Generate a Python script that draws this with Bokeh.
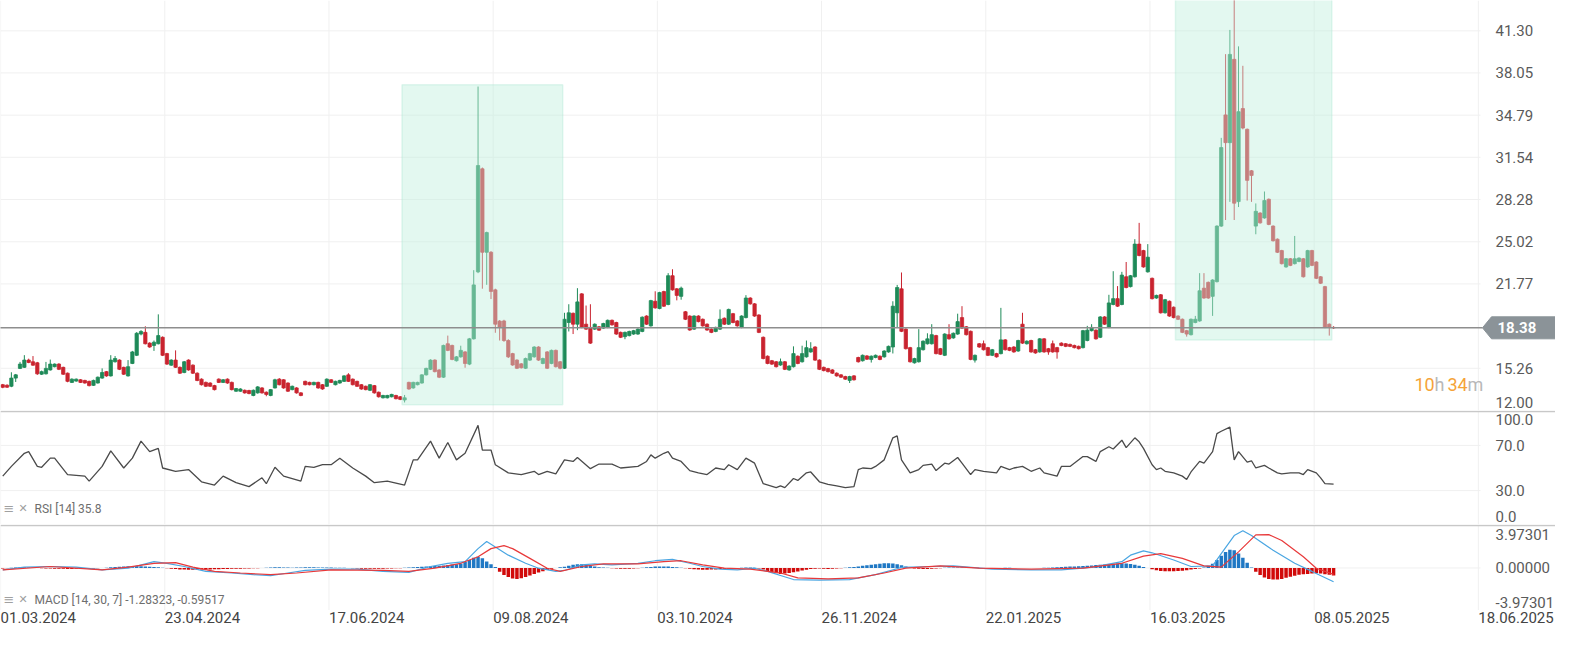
import numpy as np
from bokeh.plotting import figure
from bokeh.models import Range1d, Span, Label, BoxAnnotation, ColumnDataSource
from bokeh.layouts import column
from bokeh.embed import file_html
from bokeh.resources import INLINE

# ---------------- data ----------------
opens = [
 13.99,13.95,13.87,14.50,15.25,15.33,15.89,15.76,15.68,14.80,
 14.83,15.13,15.38,15.58,15.33,14.88,14.17,14.27,14.37,14.32,
 14.25,13.94,14.12,14.50,15.00,14.67,15.76,15.89,15.33,14.67,
 15.63,16.26,17.90,18.03,17.20,17.02,17.15,17.65,16.39,15.50,
 15.89,15.33,14.93,15.89,15.50,14.88,14.42,14.17,14.12,13.92,
 14.42,14.17,14.42,14.17,13.49,13.49,13.56,13.54,13.16,13.36,
 13.74,13.41,13.16,13.74,14.42,14.37,14.12,13.61,13.74,13.36,
 14.25,14.17,13.99,14.17,13.99,13.87,14.37,13.99,14.12,14.25,
 14.75,14.42,14.25,13.99,13.87,13.56,13.92,13.41,12.98,12.98,
 13.06,13.16,13.06,12.81,14.17,13.74,13.99,14.12,14.75,15.18,
 15.89,15.13,14.57,17.15,17.02,15.84,16.14,16.52,15.58,17.53,
 22.70,30.65,24.21,24.21,21.31,18.90,18.91,17.40,16.39,15.89,
 15.60,15.26,15.89,16.14,16.90,15.63,16.52,15.63,16.64,15.76,
 15.26,18.79,19.50,18.66,21.00,18.66,18.41,18.28,18.46,18.36,
 18.41,18.96,18.79,18.03,17.70,17.78,17.90,17.90,18.10,19.29,
 18.53,20.43,19.87,21.18,20.18,22.40,21.39,20.81,19.62,19.29,
 18.28,19.29,19.04,18.66,18.28,18.10,18.28,19.12,18.66,19.47,
 18.91,18.41,19.17,20.68,20.23,19.37,17.65,16.19,15.84,15.76,
 15.51,15.76,15.13,15.38,16.19,15.76,16.14,16.52,16.90,15.89,
 15.33,15.23,15.13,14.88,14.75,14.62,14.32,14.67,16.09,15.84,
 16.21,15.94,16.09,16.19,16.14,16.52,16.90,19.54,21.39,18.28,
 16.85,15.68,15.76,16.69,17.15,17.15,17.78,16.77,16.26,17.85,
 17.60,17.90,19.17,18.46,18.11,15.89,17.15,17.15,16.85,16.26,
 16.39,16.39,17.45,16.85,16.90,16.59,18.66,17.15,17.40,16.69,
 16.52,17.53,16.77,17.15,16.85,17.20,17.15,17.10,17.02,16.95,
 16.85,17.40,18.16,18.20,17.65,19.22,18.41,20.18,20.63,20.18,
 22.32,21.56,22.32,24.84,24.34,22.70,22.20,20.68,20.93,19.54,
 20.43,19.97,19.29,19.04,18.16,17.85,18.79,18.91,21.44,21.89,
 20.81,21.94,26.23,34.81,32.67,39.10,28.12,35.30,33.70,30.50,
 26.23,27.24,26.86,28.30,26.23,25.22,24.34,23.08,23.71,23.33,
 23.50,23.71,23.08,24.34,23.46,22.32,21.56,18.66,18.41]
closes = [
 13.79,13.80,14.50,14.75,15.58,15.89,15.71,15.50,14.83,15.00,
 15.25,15.58,15.58,15.18,14.80,14.25,14.42,14.42,14.17,14.12,
 13.92,14.32,14.57,14.93,14.67,15.89,16.01,15.18,14.80,15.38,
 16.52,17.96,18.10,17.15,16.90,17.27,17.78,16.26,15.58,15.89,
 15.33,14.88,15.76,15.13,14.88,14.32,13.99,13.87,13.87,13.61,
 14.17,14.37,14.12,13.61,13.69,13.66,13.36,13.31,13.56,13.82,
 13.36,13.24,13.61,14.37,13.99,13.74,13.49,13.87,13.36,13.16,
 13.99,13.99,14.17,13.74,13.66,14.42,14.17,14.25,14.32,14.67,
 14.25,13.99,13.87,13.66,13.61,13.99,13.36,13.06,13.16,13.16,
 13.24,12.91,12.86,12.98,13.66,14.17,14.17,14.75,15.25,15.89,
 15.00,14.57,17.02,16.64,15.94,16.14,16.64,15.63,17.53,21.69,
 30.90,24.21,25.73,21.19,18.66,18.41,17.40,16.14,15.51,15.26,
 15.30,16.01,16.39,16.90,15.89,16.01,15.26,16.64,15.38,15.26,
 19.04,19.54,18.66,20.38,18.41,18.28,17.20,18.66,18.20,18.71,
 18.96,18.61,17.90,17.65,18.03,18.10,18.16,18.28,19.20,18.66,
 20.48,19.92,21.10,20.05,22.40,21.31,20.88,21.44,19.04,18.21,
 19.29,18.86,18.53,18.21,18.03,18.41,19.04,18.66,19.80,18.79,
 18.53,19.29,20.68,20.23,19.29,18.03,16.01,15.63,15.58,15.38,
 15.76,15.18,15.43,16.39,15.63,16.39,16.85,16.77,15.89,15.18,
 15.08,15.00,14.88,14.67,14.57,14.42,14.62,14.37,15.76,16.26,
 15.96,16.19,16.26,15.94,16.59,16.95,20.05,21.49,18.11,16.77,
 15.76,16.01,16.85,17.35,17.53,17.85,16.39,16.34,17.90,17.53,
 17.96,18.86,18.36,17.85,15.94,16.26,16.90,16.69,16.26,16.69,
 16.14,17.45,16.69,16.64,16.52,17.40,17.20,17.35,16.52,16.44,
 17.53,16.52,16.52,16.52,16.52,17.02,16.95,16.95,16.85,16.77,
 18.16,18.20,18.41,17.53,19.22,18.66,20.30,20.63,20.05,22.45,
 21.49,22.40,24.84,23.96,23.08,23.83,20.63,20.88,19.54,20.55,
 19.29,19.17,19.04,18.03,17.90,19.04,19.04,21.24,20.68,20.68,
 22.07,26.23,32.29,32.67,39.48,28.00,35.06,33.80,29.76,30.14,
 27.37,26.48,28.20,26.36,25.10,24.21,23.33,23.71,23.20,23.71,
 23.76,22.32,24.34,23.20,22.20,21.82,18.41,18.41,18.38]
highs = [
 14.05,14.02,14.95,14.82,15.75,16.27,16.00,16.20,15.75,15.08,
 15.75,15.93,15.63,15.65,15.38,14.93,14.48,14.47,14.42,14.37,
 14.30,14.38,14.62,15.25,15.05,16.27,16.20,15.95,15.38,15.89,
 16.60,18.05,18.20,18.50,17.27,17.40,19.42,17.72,16.45,15.95,
 16.64,15.40,15.82,15.95,15.56,14.94,14.48,14.23,14.18,13.98,
 14.48,14.43,14.48,14.23,13.74,13.72,13.62,13.60,13.62,13.88,
 13.80,13.47,13.66,14.45,14.50,14.42,14.17,13.92,13.80,13.42,
 14.30,14.22,14.22,14.22,14.04,14.48,14.42,14.30,14.37,14.72,
 14.88,14.47,14.30,14.04,13.92,14.04,13.97,13.46,13.21,13.21,
 13.29,13.21,13.11,13.20,14.22,14.22,14.22,14.80,15.30,15.95,
 15.95,15.18,17.08,17.78,17.08,16.20,17.00,16.58,17.60,22.83,
 37.00,30.75,25.80,24.30,21.40,18.98,19.00,17.50,16.45,15.95,
 15.66,16.08,16.45,16.96,16.96,16.08,16.58,16.70,16.70,15.82,
 19.54,20.20,19.56,21.44,21.06,20.10,20.20,18.72,18.52,18.77,
 19.02,19.02,18.85,18.09,18.09,18.16,18.22,18.34,19.26,19.35,
 20.54,21.20,21.16,21.24,22.60,22.90,21.45,21.56,19.68,19.35,
 19.35,19.35,19.10,18.72,18.34,18.47,19.80,19.18,19.86,19.53,
 18.97,19.35,20.90,20.74,20.29,19.43,17.71,16.25,15.90,15.82,
 16.01,15.82,15.49,16.95,16.25,17.00,17.40,17.27,16.96,15.95,
 15.39,15.29,15.19,14.94,14.81,14.68,14.68,14.73,16.15,16.32,
 16.27,16.25,16.32,16.25,16.65,17.01,20.43,21.69,22.65,18.34,
 16.91,16.07,18.28,17.41,17.96,18.66,17.84,16.83,17.96,18.66,
 18.02,19.47,20.05,18.52,18.17,16.32,17.21,17.40,16.91,16.75,
 16.45,19.92,17.51,16.91,16.96,17.46,19.54,17.41,17.46,16.75,
 17.59,17.59,16.83,17.40,16.91,17.26,17.21,17.16,17.08,17.01,
 18.22,18.53,18.66,18.26,19.28,19.28,20.93,22.75,21.60,22.70,
 23.46,22.46,25.22,26.48,24.40,24.84,22.26,20.94,20.99,20.61,
 20.49,20.03,19.35,19.10,18.22,19.10,19.30,22.60,22.60,21.95,
 22.13,26.29,33.04,39.50,41.37,44.50,40.10,38.60,33.76,30.56,
 27.98,27.30,28.90,28.36,26.29,25.28,24.40,23.77,23.77,25.47,
 23.82,23.77,24.40,24.40,23.52,22.38,21.62,18.72,18.50]
lows = [
 13.72,13.74,13.80,14.20,15.20,15.28,15.65,15.45,14.75,14.74,
 14.78,15.08,15.33,15.12,14.75,14.18,14.12,14.22,14.12,14.07,
 13.86,13.90,14.08,14.45,14.60,14.62,15.70,15.12,14.74,14.62,
 15.58,16.20,17.80,17.10,16.84,16.60,17.10,16.20,15.52,15.45,
 15.28,14.82,14.88,15.07,14.82,14.26,13.93,13.81,13.82,13.55,
 14.12,14.12,14.06,13.55,13.44,13.44,13.30,13.25,13.10,13.30,
 13.30,13.10,13.10,13.70,13.94,13.68,13.43,13.56,13.30,13.10,
 13.94,13.94,13.94,13.68,13.60,13.82,14.12,13.94,14.07,14.20,
 14.20,13.94,13.82,13.60,13.56,13.50,13.30,13.00,12.93,12.93,
 13.01,12.86,12.80,12.62,13.60,13.68,13.94,14.07,14.70,15.12,
 14.94,14.50,14.52,16.58,15.88,15.78,16.08,15.30,15.50,17.48,
 22.60,21.40,21.70,20.60,18.00,17.40,17.30,16.05,15.45,15.20,
 15.24,15.20,15.83,16.08,15.83,15.57,15.20,15.57,15.32,15.18,
 15.20,18.10,17.90,18.20,18.35,18.22,17.14,18.22,18.14,18.30,
 18.35,18.55,17.84,17.59,17.50,17.72,17.84,17.84,18.04,18.60,
 18.47,19.86,19.81,19.99,20.12,21.25,20.50,20.55,18.98,18.15,
 18.22,18.80,18.47,18.15,17.97,18.04,18.22,18.60,18.60,18.73,
 18.47,18.35,19.11,20.17,19.23,17.97,15.95,15.57,15.52,15.32,
 15.45,15.12,15.07,15.32,15.57,15.70,16.08,16.46,15.83,15.12,
 15.02,14.94,14.82,14.61,14.51,14.36,14.12,14.31,15.70,15.78,
 15.90,15.70,16.03,15.88,16.08,16.46,16.40,18.40,18.05,16.71,
 15.70,15.62,15.70,16.63,17.09,17.09,16.33,16.28,16.20,17.47,
 17.54,17.84,18.30,17.79,15.88,15.70,16.84,16.63,16.20,16.20,
 16.08,16.33,16.63,16.58,16.46,16.53,17.14,17.09,16.46,16.38,
 16.46,16.46,16.30,16.46,16.00,16.96,16.89,16.89,16.79,16.71,
 16.79,17.34,18.10,17.47,17.59,18.60,18.35,20.12,19.99,20.12,
 21.43,21.50,22.26,23.90,23.02,22.64,20.57,20.62,19.48,19.48,
 19.23,19.11,18.98,17.97,17.70,17.79,18.73,18.85,20.62,20.62,
 19.30,21.88,26.17,26.70,28.10,26.70,27.70,33.70,28.20,28.10,
 25.60,26.42,26.80,26.30,25.04,24.15,23.27,23.02,23.14,23.27,
 23.44,22.26,23.02,23.14,22.14,21.76,18.35,17.78,18.30]

rsi_bars = [0,2,5,6,8,9,11,12,15,19,20,23,25,28,30,32,34,36,37,40,43,46,49,51,54,57,60,61,63,65,
            69,70,72,74,76,78,81,84,86,89,93,95,96,99,101,103,105,107,110,111,113,114,117,120,123,124,126,128,
            130,132,133,136,138,141,143,147,149,150,151,153,154,155,157,159,161,163,165,167,168,170,172,174,176,179,
            180,181,183,184,186,187,189,191,193,195,197,198,199,201,202,204,206,207,208,210,212,213,215,216,218,219,
            221,222,224,225,227,230,231,233,234,236,238,240,241,244,245,247,250,251,253,254,256,257,259,260,262,263,
            264,266,267,268,269,271,273,274,275,277,278,280,281,282,284,285,286,288,289,290,292,293,295,296,298,300,
            301,302,304,305,306,308]
rsi_vals = [42.8,51.4,63.0,64.5,51.4,50.6,58.7,58.7,44.2,42.8,38.4,51.4,65.1,50.0,58.7,73.8,64.5,67.4,50.0,47.1,
            48.6,37.8,34.9,42.8,37.0,33.5,41.3,36.1,50.6,42.8,
            38.4,51.4,50.6,52.9,52.9,58.7,50.0,42.8,37.0,38.4,34.9,57.2,57.2,73.8,58.7,72.6,57.2,63.0,87.7,65.9,
            65.9,52.9,45.7,44.2,47.1,44.2,47.1,44.8,
            57.2,55.8,59.3,49.4,53.5,53.5,50.0,51.4,55.8,61.6,58.7,63.0,64.5,58.7,55.8,47.7,45.7,44.2,50.0,48.6,
            52.9,48.6,58.7,54.3,36.1,32.6,
            34.1,32.6,40.7,39.0,45.7,46.5,37.8,35.5,34.1,32.6,33.5,48.6,50.0,49.4,51.4,57.2,76.7,78.4,57.2,45.7,
            48.6,52.3,53.5,47.7,54.3,53.5,
            59.3,54.3,44.2,48.6,47.1,45.7,51.4,48.6,50.0,51.4,47.1,50.0,45.7,42.8,51.4,51.4,60.1,60.1,55.8,64.5,
            68.8,66.8,74.6,68.0,76.7,73.2,
            67.4,52.9,48.6,50.0,47.1,45.7,42.8,39.9,46.5,55.8,54.3,64.5,80.4,82.5,86.2,57.2,64.5,55.2,56.4,50.0,
            52.3,50.0,45.7,44.8,45.7,45.7,
            44.2,48.6,45.7,41.3,36.1,35.8]

macd_bars = [0,5,11,17,23,29,35,38,42,47,53,58,62,66,70,76,82,88,94,99,103,107,110,112,114,117,121,124,128,
             130,134,137,141,147,151,155,159,162,166,170,174,177,180,183,189,196,202,208,215,220,229,238,245,
             252,259,261,264,266,271,275,280,282,285,287,289,294,299,303,308]
macd_vals = [-0.17,0.08,0.14,0.08,-0.17,-0.02,0.59,0.44,0.14,-0.32,-0.47,-0.62,-0.72,-0.47,-0.23,-0.11,-0.11,
             -0.32,-0.41,0.14,0.44,0.59,1.81,2.48,1.96,1.20,0.44,-0.02,-0.32,
             -0.23,0.29,0.38,0.29,0.44,0.68,0.81,0.44,0.14,-0.11,-0.17,-0.02,-0.32,-0.70,-1.08,-1.14,-1.08,-0.62,
             0.05,0.14,0.20,-0.11,-0.17,-0.17,
             0.05,0.59,1.20,1.60,1.42,0.75,0.14,0.20,1.35,3.03,3.49,3.03,1.66,0.44,-0.32,-1.28323]
signal_bars = [0,11,23,29,35,40,44,49,55,62,68,76,88,94,100,106,110,113,116,118,122,126,129,134,139,147,153,
               157,162,167,173,177,180,184,191,198,204,209,217,226,238,250,259,264,268,273,278,282,286,290,
               293,296,301,304,308]
signal_vals = [-0.17,0.14,-0.17,0.08,0.44,0.50,0.08,-0.32,-0.47,-0.62,-0.47,-0.17,-0.23,-0.32,-0.02,0.44,1.05,
               1.81,2.09,1.81,0.90,-0.02,-0.32,0.14,0.38,0.38,0.59,0.68,0.29,-0.02,-0.11,-0.32,-0.47,-0.93,-1.02,
               -0.93,-0.47,-0.02,0.20,-0.02,-0.11,-0.02,0.44,1.11,1.35,0.90,0.20,0.08,1.51,3.09,3.12,2.57,1.05,
               -0.02,-0.59517]
hist_vals = [
 -0.04,-0.03,0.03,0.05,0.06,0.06,0.05,0.04,0.02,-0.03,
 -0.05,-0.05,-0.06,-0.08,-0.08,-0.09,-0.09,-0.08,-0.07,-0.06,
 -0.05,-0.04,-0.03,0.0,0.03,0.06,0.09,0.12,0.15,0.17,
 0.18,0.18,0.17,0.15,0.12,0.09,0.06,0.03,-0.02,-0.06,
 -0.10,-0.13,-0.15,-0.16,-0.16,-0.15,-0.15,-0.14,-0.13,-0.12,
 -0.11,-0.10,-0.09,-0.08,-0.07,-0.06,-0.05,-0.04,-0.03,-0.02,
 0.0,0.03,0.05,0.06,0.06,0.05,0.04,0.03,0.04,0.05,
 0.06,0.06,0.06,0.05,0.05,0.04,0.04,0.03,0.03,0.02,
 0.0,-0.03,-0.05,-0.07,-0.08,-0.08,-0.08,-0.07,-0.06,-0.05,
 -0.04,-0.03,-0.02,0.02,0.05,0.08,0.10,0.12,0.14,0.16,
 0.18,0.20,0.24,0.28,0.32,0.36,0.42,0.55,0.75,0.95,
 1.05,0.90,0.60,0.35,0.10,-0.35,-0.65,-0.85,-0.98,-1.02,
 -0.95,-0.85,-0.70,-0.55,-0.42,-0.30,-0.18,-0.08,0.0,0.06,
 0.12,0.22,0.30,0.36,0.36,0.30,0.22,0.14,0.08,0.04,
 0.02,-0.02,-0.05,-0.07,-0.08,-0.07,-0.05,-0.02,0.02,0.06,
 0.10,0.13,0.15,0.15,0.13,0.10,0.07,0.03,-0.03,-0.08,
 -0.12,-0.15,-0.16,-0.16,-0.15,-0.13,-0.10,-0.07,-0.04,-0.02,
 0.0,0.02,0.04,0.05,0.03,-0.05,-0.15,-0.30,-0.42,-0.50,
 -0.55,-0.52,-0.47,-0.40,-0.32,-0.24,-0.17,-0.10,-0.06,-0.04,
 -0.08,-0.10,-0.08,-0.05,-0.03,0.02,0.06,0.10,0.15,0.20,
 0.25,0.30,0.35,0.40,0.44,0.44,0.42,0.35,0.25,0.15,
 0.06,-0.04,-0.08,-0.10,-0.10,-0.08,-0.05,-0.02,0.02,0.04,
 0.05,0.05,0.04,0.03,0.02,0.0,-0.02,-0.03,-0.03,-0.02,
 0.0,0.01,0.02,0.02,0.01,0.0,0.0,-0.01,-0.01,0.0,
 0.01,0.02,0.03,0.05,0.07,0.09,0.11,0.13,0.15,0.17,
 0.19,0.21,0.24,0.27,0.30,0.33,0.36,0.40,0.43,0.44,
 0.42,0.38,0.30,0.20,0.10,0.0,-0.12,-0.22,-0.28,-0.30,
 -0.30,-0.30,-0.28,-0.25,-0.20,-0.15,-0.10,-0.05,0.05,0.20,
 0.40,0.75,1.15,1.50,1.70,1.65,1.35,0.95,0.50,0.05,
 -0.35,-0.65,-0.88,-1.02,-1.08,-1.08,-1.02,-0.92,-0.82,-0.72,
 -0.64,-0.58,-0.55,-0.52,-0.50,-0.52,-0.58,-0.64,-0.69]

tick_labels = ["01.03.2024", "23.04.2024", "17.06.2024", "09.08.2024", "03.10.2024",
               "26.11.2024", "22.01.2025", "16.03.2025", "08.05.2025", "18.06.2025"]
tick_bars = [-0.5, 37.5, 75.5, 113.5, 151.5, 189.5, 227.5, 265.5, 303.5, 341.5]
price_ticks = [15.26, 21.77, 25.02, 28.28, 31.54, 34.79, 38.05, 41.30]
price_edge = 12.00
rsi_ticks = [30.0, 70.0]
rsi_edges = [0.0, 100.0]
macd_limit = 3.97301

zone_left = [92.4, 271.4]
zone_right = [129.6, 307.6]
zone_low = [12.45, 17.45]
zone_high = [37.13, 45.0]

# ---------------- layout ----------------
W = 1555
CHART_W = 1480
H_MAIN, H_RSI, H_MACD, H_DATE = 410, 114, 86, 19
X0, X1 = -0.52, 342.0
px_bar = CHART_W / (X1 - X0)
XEND = X0 + W / px_bar
P0, P1 = 12.0, 43.64
px_price = H_MAIN / (P1 - P0)
xr = Range1d(X0, XEND)

FONT = "Roboto"
GRID = "#f0f0f0"
LABEL = "#5a5a5a"
GREEN = "#1e8a58"
RED = "#c9232f"
SEP = "#c8c8c8"
STANDOFF = 15


def make(h, y0, y1):
    p = figure(width=W, height=h, x_range=xr, y_range=Range1d(y0, y1),
               output_backend="svg", toolbar_location=None,
               x_axis_location=None, y_axis_location=None, min_border=0)
    p.min_border_left = 0
    p.min_border_right = 0
    p.min_border_top = 0
    p.min_border_bottom = 0
    p.outline_line_color = None
    p.background_fill_color = "white"
    p.border_fill_color = "white"
    p.grid.visible = False
    return p


def grids(p, yvals, y0, y1):
    p.segment(x0=X0, x1=X1, y0=yvals, y1=yvals, line_color=GRID, line_width=1)
    p.segment(x0=tick_bars, x1=tick_bars, y0=y0, y1=y1, line_color=GRID, line_width=1)


def ylabel(p, y, text, baseline="middle", yoff=0):
    p.add_layout(Label(x=X1, y=y, text=text, x_offset=STANDOFF, y_offset=yoff, text_baseline=baseline,
                       text_font=FONT, text_font_size="15px", text_color=LABEL))


def legend(p, y, yoff, text):
    p.add_layout(Label(x=X0, y=y, x_offset=3, y_offset=yoff, text="\u2261", text_baseline="middle",
                       text_font="DejaVu Sans", text_font_size="13px", text_color="#a0a0a0"))
    p.add_layout(Label(x=X0, y=y, x_offset=18, y_offset=yoff, text="\u2715", text_baseline="middle",
                       text_font="DejaVu Sans", text_font_size="11px", text_color="#a0a0a0"))
    p.add_layout(Label(x=X0, y=y, x_offset=34, y_offset=yoff, text=text, text_baseline="middle",
                       text_font=FONT, text_font_size="12px", text_color="#6e6e6e"))


# ---------------- main price panel ----------------
o = np.array(opens); c = np.array(closes); hi = np.array(highs); lo = np.array(lows)
idx = np.arange(len(c))
col = np.where(c >= o, GREEN, RED)
src = ColumnDataSource(dict(x=idx, top=np.maximum(o, c), bottom=np.minimum(o, c),
                            high=hi, low=lo, color=col))

pm = make(H_MAIN, P0, P1)
grids(pm, [price_edge] + price_ticks, P0, P1)
pm.segment(x0="x", y0="low", x1="x", y1="high", line_color="color", line_width=1, source=src)
pm.vbar(x="x", width=0.76, top="top", bottom="bottom", fill_color="color", line_color="color",
        line_width=0.8, source=src)

for l, r, b, t in zip(zone_left, zone_right, zone_low, zone_high):
    pm.add_layout(BoxAnnotation(left=l, right=r, bottom=b, top=t, fill_color="#c2f0dd",
                                fill_alpha=0.45, line_color="#a3e4cc", line_width=1.5))

last = closes[-1]
tip = X1 + 2 / px_bar
base = X1 + 11 / px_bar
right = X1 + 76 / px_bar
half = 11 / px_price
pm.segment(x0=X0, x1=tip, y0=last, y1=last, line_color="#8e8e8e", line_width=1.5, level="overlay")
pm.patch(x=[tip, base, right, right, base],
         y=[last, last + half, last + half, last - half, last - half],
         fill_color="#8b9398", line_color="#8b9398")
pm.add_layout(Label(x=X1, y=last, x_offset=STANDOFF + 2, text=f"{last:.2f}", text_baseline="middle",
                    text_font=FONT, text_font_size="15px", text_font_style="bold", text_color="white"))
for t in price_ticks:
    ylabel(pm, t, f"{t:.2f}")
ylabel(pm, price_edge, f"{price_edge:.2f}", "bottom", 3)

for txt, off, colr in [("10", -66, "#f5a338"), ("h", -46, "#b8b8b8"), ("34", -33, "#f5a338"), ("m", -13, "#b8b8b8")]:
    pm.add_layout(Label(x=X1, y=P0, x_offset=off, y_offset=26, text=txt, text_baseline="middle",
                        text_font=FONT, text_font_size="18px", text_color=colr))

# ---------------- RSI panel ----------------
r_top = 100.0 + 1.0 / (H_RSI / 100.0)
pr = make(H_RSI, 0, r_top)
grids(pr, rsi_ticks, 0, r_top)
pr.line(rsi_bars, rsi_vals, line_color="#4a4a4a", line_width=1.3)
pr.add_layout(Span(location=100, dimension="width", line_color=SEP, line_width=1.5))
for t in rsi_ticks:
    ylabel(pr, t, f"{t:.1f}")
ylabel(pr, rsi_edges[1], f"{rsi_edges[1]:.1f}", "top", -3)
ylabel(pr, rsi_edges[0], f"{rsi_edges[0]:.1f}", "bottom", 3)
legend(pr, 0, 16, f"RSI [14] {rsi_vals[-1]:.1f}")

# ---------------- MACD panel ----------------
m_top = macd_limit + 1.0 / (H_MACD / (2 * macd_limit))
pd_ = make(H_MACD, -macd_limit, m_top)
grids(pd_, [0.0], -macd_limit, m_top)
hv = np.array(hist_vals)
hsrc = ColumnDataSource(dict(x=np.arange(len(hv)), top=hv,
                             color=np.where(hv >= 0, "#1f78c4", "#d10a0a")))
pd_.vbar(x="x", width=0.8, top="top", bottom=0, fill_color="color", line_color=None, source=hsrc)
pd_.line(macd_bars, macd_vals, line_color="#4aa6e2", line_width=1.2)
pd_.line(signal_bars, signal_vals, line_color="#e8393a", line_width=1.2)
pd_.add_layout(Span(location=macd_limit, dimension="width", line_color=SEP, line_width=1.5))
ylabel(pd_, 0.0, f"{0.0:.5f}")
ylabel(pd_, macd_limit, f"{macd_limit:.5f}", "top", -4)
ylabel(pd_, -macd_limit, f"{-macd_limit:.5f}", "bottom", 3)
legend(pd_, -macd_limit, 11, f"MACD [14, 30, 7] {macd_vals[-1]:.5f},  {signal_vals[-1]:.5f}")

# ---------------- date strip ----------------
px = make(H_DATE, 0, 1)
for tb, tl in zip(tick_bars, tick_labels):
    px.add_layout(Label(x=tb, y=1, y_offset=-1, text=tl, text_align="left",
                        text_baseline="top", text_font=FONT, text_font_size="15px",
                        text_color="#444444"))

layout = column(pm, pr, pd_, px, spacing=0)
open("out.html", "w").write(file_html(layout, INLINE))
